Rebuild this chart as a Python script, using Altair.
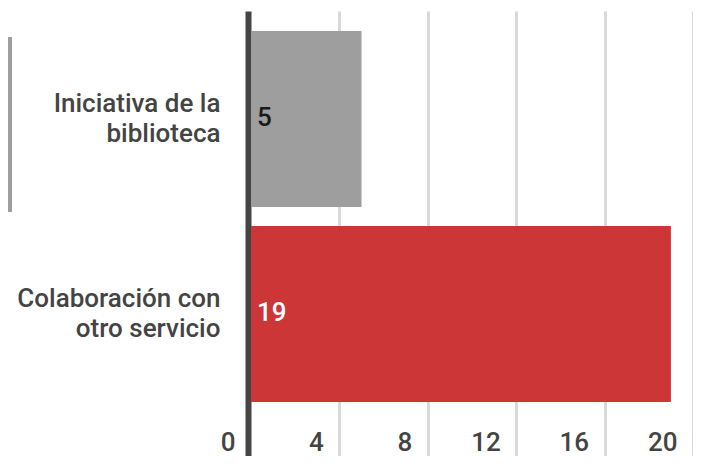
import altair as alt
import pandas as pd

# Data
categories = ["Iniciativa de la|biblioteca", "Colaboración con|otro servicio"]
values = [5, 19]
x_ticks = [0, 4, 8, 12, 16, 20]

bar_colors = ["#9e9e9e", "#cc3636"]
label_colors = ["#1a1a1a", "#ffffff"]

df = pd.DataFrame({"category": categories, "value": values})

FONT = "Roboto"
FS = 26

y_enc = alt.Y(
    "category:N",
    sort=categories,
    scale=alt.Scale(domain=categories, paddingInner=0.0974, paddingOuter=0.1898, align=0.27),
    axis=alt.Axis(
        title=None,
        labelExpr="split(datum.label, '|')",
        labelFont=FONT,
        labelFontSize=FS,
        labelFontWeight=500,
        labelColor="#444444",
        labelLineHeight=30,
        labelPadding=28,
        labelOffset=-15,
        labelLimit=400,
        labelAlign="right",
        labelBaseline="middle",
        ticks=False,
        tickSize=0,
        domainColor="#444444",
        domainWidth=6,
        offset=3,
        grid=False,
    ),
)

x_enc = alt.X(
    "value:Q",
    scale=alt.Scale(domain=[0, 20], nice=False, zero=True),
    axis=alt.Axis(
        title=None,
        values=x_ticks,
        format="d",
        grid=True,
        gridColor="#d9d9d9",
        gridWidth=3,
        gridOpacity={"condition": {"test": "datum.value === 0", "value": 0}, "value": 1},
        domain=False,
        ticks=False,
        tickSize=0,
        labelFont=FONT,
        labelFontSize=FS,
        labelFontWeight=500,
        labelColor="#444444",
        labelAlign="right",
        labelBaseline="middle",
        labelPadding=-14,
        labelOffset=-16,
        labelFlush=False,
        labelOverlap=False,
    ),
)

base = alt.Chart(df)

bars = base.mark_bar().encode(
    x=x_enc,
    y=y_enc,
    color=alt.Color("category:N", scale=alt.Scale(domain=categories, range=bar_colors), legend=None),
)

labels = base.mark_text(
    align="left", baseline="middle", dx=6, dy=-1, fontSize=FS, fontWeight=500, font=FONT
).encode(
    x=alt.datum(0),
    y=alt.Y("category:N", sort=categories),
    text=alt.Text("value:Q"),
    color=alt.Color("category:N", scale=alt.Scale(domain=categories, range=label_colors), legend=None),
)

swatch = alt.Chart(pd.DataFrame({"k": [0]})).mark_rect(color="#9e9e9e").encode(
    x=alt.value(-243), x2=alt.value(-239), y=alt.value(26), y2=alt.value(201)
)

chart = (
    alt.layer(swatch, bars, labels)
    .resolve_scale(color="independent")
    .properties(
        width=442,
        height=445,
        autosize=alt.AutoSizeParams(type="none"),
        padding={"left": 243, "top": 3, "right": 0, "bottom": 0},
        background="white",
    )
    .configure_view(stroke=None)
)

chart.save("out.html", embed_options={"renderer": "svg", "actions": False})
